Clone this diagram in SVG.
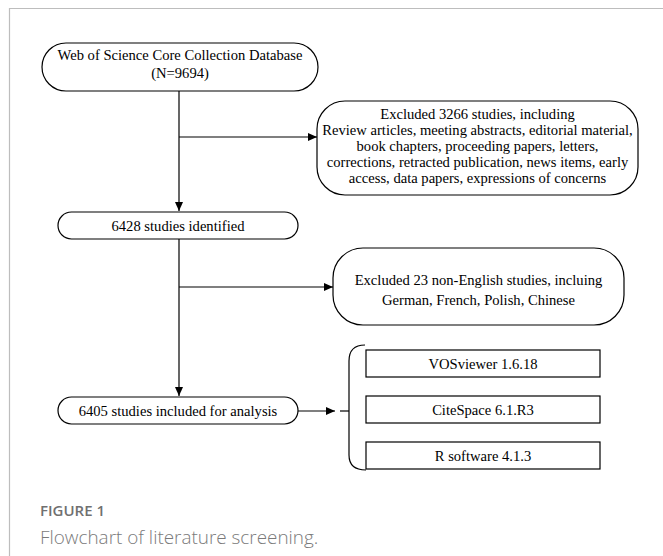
<svg xmlns="http://www.w3.org/2000/svg" width="663" height="556" viewBox="0 0 663 556">
<style>
.bx{fill:#fff;stroke:#000;stroke-width:1.2}
.t{font-family:"Liberation Serif","Times New Roman",serif;font-size:14.6px;fill:#000;text-anchor:middle}
.ln{stroke:#000;stroke-width:1.2;fill:none}
.cap1{font-family:"Open Sans","Liberation Sans",sans-serif;font-size:15px;font-weight:600;fill:#707070}
.cap2{font-family:"Open Sans","Liberation Sans",sans-serif;font-size:18.9px;font-weight:300;fill:#7a7a7a}
</style>
<defs>
<marker id="ah" markerWidth="10" markerHeight="10" refX="9" refY="5" orient="auto" markerUnits="userSpaceOnUse">
<path d="M0,1 L9,5 L0,9 Z" fill="#000"/>
</marker>
</defs>
<rect width="663" height="556" fill="#fff"/>
<path d="M9.5,556 L9.5,8.5 L663,8.5" fill="none" stroke="#bdbdbd" stroke-width="1.2"/>
<g id="connectors">
<line class="ln" x1="179" y1="91" x2="179" y2="211" marker-end="url(#ah)"/>
<line class="ln" x1="179" y1="137" x2="317" y2="137" marker-end="url(#ah)"/>
<line class="ln" x1="179" y1="239" x2="179" y2="396" marker-end="url(#ah)"/>
<line class="ln" x1="179" y1="287" x2="333" y2="287" marker-end="url(#ah)"/>
<line class="ln" x1="298" y1="411" x2="335" y2="411" marker-end="url(#ah)"/>
<line class="ln" x1="340" y1="411" x2="349" y2="411"/>
<path class="ln" d="M365,345 Q349,345 349,361 L349,455 Q349,470 366,470" stroke="#222"/>
</g>
<g id="n1">
<rect class="bx" x="42" y="43" width="276" height="48" rx="24" ry="24"/>
<text class="t" x="180" y="60">Web of Science Core Collection Database</text>
<text class="t" x="180" y="78">(N=9694)</text>
</g>
<g id="n2">
<rect class="bx" x="317" y="101" width="321" height="94" rx="28" ry="28"/>
<text class="t" x="477.5" y="118.5">Excluded 3266 studies, including</text>
<text class="t" x="477.5" y="135">Review articles, meeting abstracts, editorial material,</text>
<text class="t" x="477.5" y="151">book chapters, proceeding papers, letters,</text>
<text class="t" x="477.5" y="167">corrections, retracted publication, news items, early</text>
<text class="t" x="477.5" y="182.5">access, data papers, expressions of concerns</text>
</g>
<g id="n3">
<rect class="bx" x="58" y="212" width="240" height="27" rx="13.5" ry="13.5"/>
<text class="t" x="178" y="230.5">6428 studies identified</text>
</g>
<g id="n4">
<rect class="bx" x="333" y="248" width="291" height="77" rx="30" ry="30"/>
<text class="t" x="478.5" y="284.5">Excluded 23 non-English studies, incluing</text>
<text class="t" x="478.5" y="305">German, French, Polish, Chinese</text>
</g>
<g id="n5">
<rect class="bx" x="58" y="397" width="240" height="27" rx="13.5" ry="13.5"/>
<text class="t" x="178" y="415.5">6405 studies included for analysis</text>
</g>
<g id="n6">
<rect class="bx" x="366" y="350" width="234" height="27"/>
<text class="t" x="483" y="368.5">VOSviewer 1.6.18</text>
</g>
<g id="n7">
<rect class="bx" x="366" y="396" width="234" height="27"/>
<text class="t" x="483" y="414.5">CiteSpace 6.1.R3</text>
</g>
<g id="n8">
<rect class="bx" x="366" y="442" width="234" height="27"/>
<text class="t" x="483" y="460.5">R software 4.1.3</text>
</g>
<text class="cap1" x="40" y="516">FIGURE 1</text>
<text class="cap2" x="40" y="544">Flowchart of literature screening.</text>
</svg>
